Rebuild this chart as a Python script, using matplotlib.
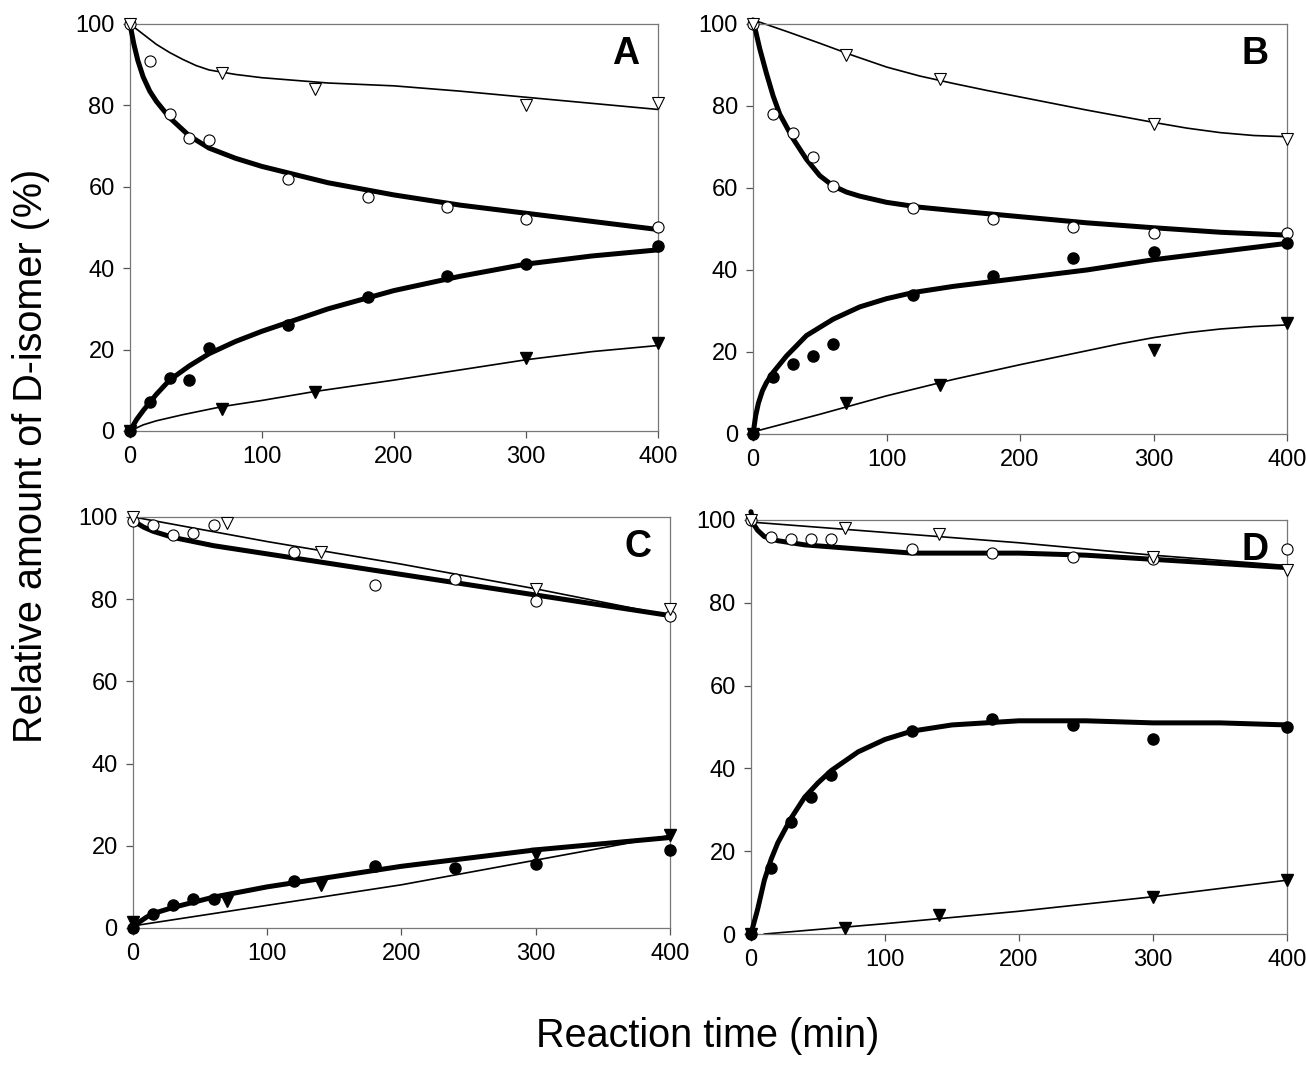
import matplotlib
matplotlib.use("Agg")
import matplotlib.pyplot as plt

# ---- data (time in min, amount in %) ----
panels = ["A", "B", "C", "D"]

# measured points: open circles, open triangles, filled circles, filled triangles
t_circ = [0, 15, 30, 45, 60, 120, 180, 240, 300, 400]
t_tri = [0, 70, 140, 300, 400]

open_circ = {
    "A": [100, 91, 78, 72, 71.5, 62, 57.5, 55, 52, 50],
    "B": [100, 78, 73.5, 67.5, 60.5, 55, 52.5, 50.5, 49, 49],
    "C": [99, 98, 95.5, 96, 98, 91.5, 83.5, 85, 79.5, 76],
    "D": [100, 96, 95.5, 95.5, 95.5, 93, 92, 91, 90.5, 93],
}
open_tri = {
    "A": [100, 88, 84, 80, 80.5],
    "B": [100, 92.5, 86.5, 75.5, 72],
    "C": [100, 98.5, 91.5, 82.5, 77.5],
    "D": [100, 98, 96.5, 91, 88],
}
fill_circ = {
    "A": [0, 7, 13, 12.5, 20.5, 26, 33, 38, 41, 45.5],
    "B": [0, 14, 17, 19, 22, 34, 38.5, 43, 44.5, 46.5],
    "C": [0, 3.5, 5.5, 7, 7, 11.5, 15, 14.5, 15.5, 19],
    "D": [0, 16, 27, 33, 38.5, 49, 52, 50.5, 47, 50],
}
fill_tri = {
    "A": [0, 5.5, 9.5, 18, 21.5],
    "B": [0, 7.5, 12, 20.5, 27],
    "C": [1.5, 6.5, 10.5, 18, 22.5],
    "D": [0, 1.5, 4.5, 9, 13],
}

# fitted curves
fit_open_circ = {
    "A": ([0, 3, 6, 10, 15, 20, 30, 45, 60, 80, 100, 150, 200, 250, 300, 350, 400],
          [100, 95, 91, 87, 83.5, 81, 77, 72.5, 69.5, 67, 65, 61, 58, 55.5, 53.5, 51.5, 49.5]),
    "B": ([0, 5, 10, 15, 20, 30, 40, 50, 60, 70, 80, 100, 125, 150, 200, 250, 300, 350, 400],
          [101, 94, 88, 82.5, 78, 72, 67, 63, 60.5, 59, 58, 56.5, 55.3, 54.5, 53, 51.5, 50.3, 49.2, 48.5]),
    "C": ([0, 3, 8, 15, 30, 60, 100, 150, 200, 250, 300, 350, 400],
          [100, 98.5, 97.5, 96.5, 95, 93, 91, 88.5, 86, 83.5, 81, 78.5, 76]),
    "D": ([0, 2, 5, 10, 20, 40, 60, 100, 120, 150, 200, 250, 300, 350, 400],
          [102, 99, 97.5, 96, 95, 94, 93.5, 92.5, 92, 92, 92, 91.5, 90.5, 89.5, 88.5]),
}
fit_open_tri = {
    "A": ([0, 10, 20, 30, 40, 50, 60, 80, 100, 150, 200, 250, 300, 350, 400],
          [100, 97.5, 95, 93, 91.3, 89.8, 88.7, 87.6, 86.8, 85.5, 84.8, 83.5, 82, 80.5, 79]),
    "B": ([0, 25, 50, 75, 100, 125, 150, 175, 200, 250, 300, 325, 350, 375, 400],
          [101, 98.2, 95.3, 92.3, 89.5, 87.3, 85.5, 83.8, 82.2, 79, 76, 74.6, 73.5, 72.8, 72.5]),
    "C": ([0, 100, 200, 300, 400],
          [100, 94, 88.5, 82.5, 76]),
    "D": ([0, 100, 200, 300, 400],
          [99.5, 97, 94.5, 91.5, 89]),
}
fit_fill_circ = {
    "A": ([0, 5, 10, 20, 30, 45, 60, 80, 100, 150, 200, 250, 300, 350, 400],
          [0, 2.8, 5, 9, 12.5, 16, 19, 22, 24.5, 30, 34.5, 38, 41, 43, 44.5]),
    "B": ([0, 2, 4, 7, 10, 15, 25, 40, 60, 80, 100, 120, 150, 200, 250, 300, 350, 400],
          [0, 4.5, 7.5, 10.5, 12.5, 15, 19, 24, 28, 31, 33, 34.5, 36, 38, 40, 42.5, 44.5, 46.5]),
    "C": ([0, 5, 10, 15, 30, 60, 100, 150, 200, 250, 300, 350, 400],
          [0, 1.5, 2.6, 3.5, 5, 7.5, 10, 12.5, 15, 17, 19, 20.5, 22]),
    "D": ([0, 5, 10, 15, 20, 30, 40, 50, 60, 80, 100, 120, 150, 200, 250, 300, 350, 400],
          [0, 6, 13, 18, 22, 28, 33, 36.5, 39.5, 44, 47, 49, 50.5, 51.5, 51.5, 51, 51, 50.5]),
}
fit_fill_tri = {
    "A": ([0, 10, 20, 40, 70, 100, 140, 200, 250, 300, 350, 400],
          [0, 1.5, 2.5, 4, 6, 7.5, 9.7, 12.5, 15, 17.5, 19.5, 21]),
    "B": ([0, 50, 100, 150, 200, 250, 275, 300, 325, 350, 375, 400],
          [0.5, 4.8, 9.3, 13.3, 16.9, 20.3, 22, 23.5, 24.7, 25.6, 26.2, 26.6]),
    "C": ([0, 100, 200, 300, 400],
          [0.5, 5.5, 10.5, 16.5, 22.5]),
    "D": ([10, 100, 200, 300, 400],
          [0, 2.5, 5.5, 9, 13]),
}

xticks = [0, 100, 200, 300, 400]
yticks = [0, 20, 40, 60, 80, 100]

# axes boxes [left, bottom, width, height] in figure fractions
boxes = {
    "A": [0.0995, 0.5957, 0.4043, 0.3818],
    "B": [0.5766, 0.5929, 0.4089, 0.3846],
    "C": [0.1018, 0.1295, 0.4112, 0.3856],
    "D": [0.5750, 0.1238, 0.4104, 0.3884],
}

tick_font = ['Liberation Sans Narrow', 'Liberation Sans', 'DejaVu Sans']
label_font = ['Liberation Sans', 'DejaVu Sans']

fig = plt.figure(figsize=(13.06, 10.66), dpi=100)

for p in panels:
    ax = fig.add_axes(boxes[p])
    # thin curves
    ax.plot(*fit_open_tri[p], color='black', lw=1.2, clip_on=False, zorder=2)
    ax.plot(*fit_fill_tri[p], color='black', lw=1.2, clip_on=False, zorder=2)
    # thick curves
    ax.plot(*fit_open_circ[p], color='black', lw=3.6, clip_on=False, zorder=3,
            solid_capstyle='round')
    ax.plot(*fit_fill_circ[p], color='black', lw=3.6, clip_on=False, zorder=3,
            solid_capstyle='round')
    # points
    ax.plot(t_circ, open_circ[p], 'o', ms=8, mfc='white', mec='black', mew=0.8,
            ls='none', clip_on=False, zorder=4)
    ax.plot(t_tri, open_tri[p], 'v', ms=8.5, mfc='white', mec='black', mew=0.8,
            ls='none', clip_on=False, zorder=4)
    ax.plot(t_circ, fill_circ[p], 'o', ms=8, color='black', ls='none',
            clip_on=False, zorder=5)
    ax.plot(t_tri, fill_tri[p], 'v', ms=8.5, color='black', ls='none',
            clip_on=False, zorder=5)

    ax.set_xlim(0, 400)
    ax.set_ylim(0, 100)
    ax.set_xticks(xticks)
    ax.set_yticks(yticks)
    for s in ax.spines.values():
        s.set_color('#777777')
        s.set_linewidth(0.9)
    ax.tick_params(direction='out', length=5, width=0.9, color='#555555',
                   labelsize=17, pad=6)
    for lab in ax.get_xticklabels() + ax.get_yticklabels():
        lab.set_family(tick_font)

    ax.text(0.965, 0.97, p, transform=ax.transAxes, ha='right', va='top',
            fontsize=27, fontweight='bold', family=label_font)

fig.text(0.024, 0.572, "Relative amount of D-isomer (%)", rotation=90,
         ha='center', va='center', fontsize=28.5, family=label_font)
fig.text(0.542, 0.028, "Reaction time (min)", ha='center', va='center',
         fontsize=28.5, family=label_font)

fig.savefig("out.png", dpi=100)
